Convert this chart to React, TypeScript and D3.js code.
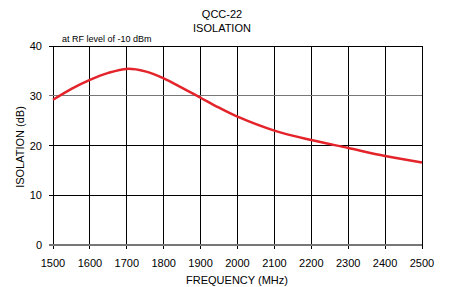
import React, { useRef, useEffect } from "react";
import * as d3 from "d3";

const freqs = [1500, 1550, 1600, 1650, 1700, 1750, 1800, 1850, 1900, 1950, 2000, 2100, 2200, 2300, 2400, 2500];
const isolation = [29.2, 31.4, 33.2, 34.6, 35.4, 34.9, 33.5, 31.6, 29.6, 27.6, 25.8, 23.0, 21.1, 19.5, 17.9, 16.6];
const xTicks = [1500, 1600, 1700, 1800, 1900, 2000, 2100, 2200, 2300, 2400, 2500];
const yTicks = [0, 10, 20, 30, 40];

export default function App() {
  const ref = useRef<SVGSVGElement>(null);

  useEffect(() => {
    if (!ref.current) return;
    const svg = d3.select(ref.current);
    svg.selectAll("*").remove();

    const left = 53, right = 422, top = 46, bottom = 245;
    const font = "Liberation Sans, Arial, sans-serif";

    const x = d3.scaleLinear().domain([1500, 2500]).range([left, right]);
    const y = d3.scaleLinear().domain([0, 40]).range([bottom, top]);

    // grid
    const g = svg.append("g").attr("shape-rendering", "crispEdges");
    g.selectAll("line.v")
      .data(xTicks)
      .enter()
      .append("line")
      .attr("x1", (d) => x(d))
      .attr("x2", (d) => x(d))
      .attr("y1", top)
      .attr("y2", bottom + 4)
      .attr("stroke", "#000");
    g.selectAll("line.h")
      .data(yTicks)
      .enter()
      .append("line")
      .attr("x1", left - 4)
      .attr("x2", right)
      .attr("y1", (d) => y(d))
      .attr("y2", (d) => y(d))
      .attr("stroke", (d) => (d === 0 || d === 30 ? "#777" : "#000"))
      .attr("stroke-width", (d) => (d === 0 ? 1.5 : 1));

    // curve
    const line = d3
      .line<number>()
      .x((_, i) => x(freqs[i]))
      .y((d) => y(d))
      .curve(d3.curveCatmullRom.alpha(0.5));
    svg
      .append("path")
      .attr("d", line(isolation)!)
      .attr("fill", "none")
      .attr("stroke", "#e3242b")
      .attr("stroke-width", 2.5);

    // tick labels
    svg.selectAll("text.xt")
      .data(xTicks)
      .enter()
      .append("text")
      .attr("x", (d) => x(d))
      .attr("y", 267)
      .attr("text-anchor", "middle")
      .attr("font-family", font)
      .attr("font-size", 11)
      .text((d) => d);
    svg.selectAll("text.yt")
      .data(yTicks)
      .enter()
      .append("text")
      .attr("x", 42)
      .attr("y", (d) => y(d) + 4)
      .attr("text-anchor", "end")
      .attr("font-family", font)
      .attr("font-size", 11)
      .text((d) => d);

    // titles
    svg.append("text").attr("x", 222).attr("y", 18).attr("text-anchor", "middle")
      .attr("font-family", font).attr("font-size", 11).text("QCC-22");
    svg.append("text").attr("x", 222).attr("y", 32).attr("text-anchor", "middle")
      .attr("font-family", font).attr("font-size", 11).text("ISOLATION");
    svg.append("text").attr("x", 62).attr("y", 42)
      .attr("font-family", font).attr("font-size", 9).text("at RF level of -10 dBm");
    svg.append("text").attr("x", 237).attr("y", 284).attr("text-anchor", "middle")
      .attr("font-family", font).attr("font-size", 11).text("FREQUENCY (MHz)");
    svg.append("text")
      .attr("transform", `translate(24,147) rotate(-90)`)
      .attr("text-anchor", "middle")
      .attr("font-family", font).attr("font-size", 11).text("ISOLATION (dB)");
  }, []);

  return (
    <svg
      ref={ref}
      width={450}
      height={287}
      style={{ position: "absolute", left: 0, top: 0, background: "#fff" }}
    />
  );
}
